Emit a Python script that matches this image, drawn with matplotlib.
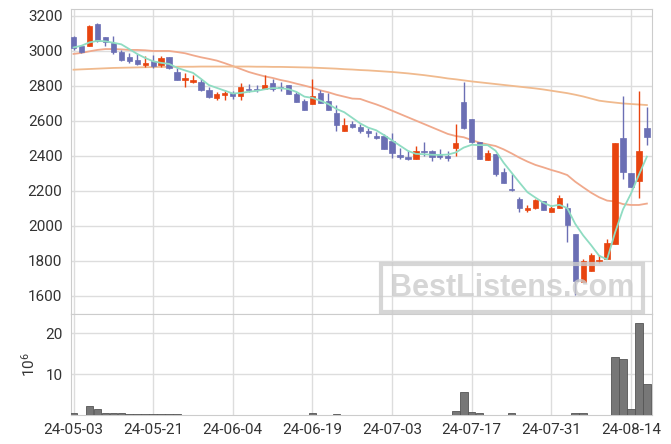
import matplotlib
matplotlib.use("Agg")
import matplotlib.pyplot as plt

plt.rcParams["font.family"] = ["Roboto", "DejaVu Sans"]
plt.rcParams["mathtext.fontset"] = "custom"
plt.rcParams["mathtext.rm"] = "Roboto"
plt.rcParams["mathtext.it"] = "Roboto"

# x labels every 10 trading days
tick_labels = ["24-05-03", "24-05-21", "24-06-04", "24-06-19",
               "24-07-03", "24-07-17", "24-07-31", "24-08-14"]

opens = [3080, 3030, 3026, 3153, 3079, 3045, 2994, 2968, 2949, 2921,
         2940, 2917, 2968, 2877, 2834, 2823, 2821, 2775, 2733, 2750,
         2762, 2745, 2783, 2785, 2781, 2815, 2796, 2806, 2756, 2714,
         2699, 2762, 2714, 2648, 2545, 2583, 2566, 2545, 2514, 2514,
         2486, 2406, 2394, 2385, 2430, 2429, 2406, 2400, 2448, 2707,
         2610, 2478, 2375, 2409, 2307, 2213, 2154, 2093, 2105, 2141,
         2082, 2105, 2101, 1954, 1682, 1745, 1800, 1811, 1895, 2503,
         2303, 2259, 2560]
highs = [3085, 3035, 3151, 3162, 3079, 3085, 3006, 2987, 2981, 2972,
         2977, 2970, 2968, 2902, 2874, 2864, 2840, 2792, 2768, 2775,
         2773, 2815, 2810, 2806, 2861, 2838, 2821, 2808, 2766, 2728,
         2838, 2777, 2758, 2690, 2619, 2598, 2581, 2562, 2535, 2524,
         2530, 2444, 2430, 2455, 2478, 2434, 2438, 2429, 2581, 2825,
         2610, 2482, 2432, 2409, 2329, 2297, 2168, 2118, 2152, 2145,
         2118, 2175, 2133, 1954, 1813, 1847, 1832, 1924, 2472, 2743,
         2303, 2773, 2678]
lows = [3006, 2990, 3026, 3049, 3030, 2983, 2941, 2932, 2921, 2907,
        2904, 2907, 2898, 2834, 2796, 2817, 2774, 2730, 2720, 2720,
        2724, 2720, 2768, 2766, 2781, 2773, 2773, 2752, 2707, 2663,
        2699, 2705, 2663, 2545, 2545, 2558, 2530, 2507, 2495, 2438,
        2389, 2385, 2377, 2381, 2400, 2373, 2381, 2371, 2400, 2552,
        2472, 2385, 2375, 2288, 2248, 2202, 2082, 2078, 2095, 2093,
        2082, 2105, 1907, 1606, 1682, 1745, 1787, 1811, 1895, 2267,
        2221, 2158, 2461]
closes = [3017, 2995, 3143, 3055, 3049, 2992, 2947, 2940, 2926, 2930,
          2913, 2962, 2902, 2834, 2843, 2832, 2777, 2738, 2754, 2762,
          2745, 2794, 2779, 2779, 2806, 2781, 2787, 2756, 2710, 2663,
          2743, 2705, 2663, 2579, 2577, 2568, 2545, 2533, 2505, 2438,
          2415, 2394, 2381, 2429, 2425, 2396, 2396, 2390, 2474, 2562,
          2478, 2385, 2415, 2299, 2248, 2208, 2105, 2105, 2147, 2093,
          2103, 2160, 2008, 1687, 1800, 1832, 1806, 1901, 2472, 2310,
          2221, 2429, 2510]

# volume in millions
volumes = [0.4, 0.03, 2.1, 1.5, 0.4, 0.4, 0.4, 0.15, 0.15, 0.15,
           0.15, 0.15, 0.15, 0.35, 0.1, 0.1, 0.1, 0.02, 0.1, 0.02,
           0.02, 0.1, 0.02, 0.02, 0.1, 0.1, 0.02, 0.1, 0.1, 0.1,
           0.6, 0.1, 0.1, 0.3, 0.02, 0.02, 0.02, 0.02, 0.1, 0.1,
           0.1, 0.02, 0.1, 0.02, 0.02, 0.02, 0.02, 0.02, 0.9, 5.6,
           0.65, 0.4, 0.1, 0.1, 0.1, 0.4, 0.1, 0.1, 0.02, 0.1,
           0.02, 0.02, 0.1, 0.6, 0.4, 0.1, 0.1, 0.1, 14.3, 13.8,
           1.5, 22.4, 7.7]

ma5 = [3020, 3030, 3049, 3058, 3055, 3047, 3038, 3011, 2983, 2960,
       2941, 2932, 2926, 2904, 2889, 2875, 2841, 2805, 2789, 2773,
       2757, 2760, 2767, 2772, 2781, 2788, 2787, 2782, 2766, 2739,
       2732, 2716, 2697, 2669, 2650, 2618, 2586, 2562, 2547, 2519,
       2489, 2459, 2429, 2412, 2410, 2407, 2406, 2408, 2420, 2448,
       2464, 2462, 2462, 2430, 2362, 2305, 2248, 2193, 2162, 2133,
       2113, 2121, 2102, 2012, 1946, 1890, 1830, 1809, 1962, 2095,
       2185, 2293, 2396]

ma20 = [2983, 2989, 2998, 3006, 3011, 3011, 3009, 3006, 3006, 3004,
        3000, 3000, 3000, 2994, 2987, 2975, 2964, 2955, 2945, 2930,
        2914, 2897, 2880, 2867, 2855, 2846, 2834, 2825, 2813, 2802,
        2790, 2775, 2764, 2750, 2739, 2728, 2726, 2710, 2695, 2678,
        2659, 2640, 2621, 2602, 2583, 2564, 2545, 2526, 2514, 2507,
        2491, 2476, 2466, 2457, 2438, 2415, 2390, 2368, 2349, 2335,
        2320, 2307, 2291, 2253, 2221, 2190, 2164, 2145, 2140, 2125,
        2120, 2120, 2128]

ma60 = [2893, 2895, 2897, 2899, 2901, 2903, 2904, 2905, 2906, 2907,
        2908, 2909, 2909, 2910, 2910, 2910, 2911, 2911, 2911, 2911,
        2911, 2911, 2911, 2910, 2910, 2909, 2909, 2908, 2907, 2906,
        2905, 2903, 2901, 2899, 2896, 2894, 2891, 2889, 2886, 2883,
        2880, 2876, 2872, 2867, 2862, 2856, 2850, 2843, 2838, 2832,
        2826, 2821, 2816, 2811, 2806, 2801, 2796, 2791, 2786, 2780,
        2773, 2766, 2759, 2750, 2740, 2728, 2716, 2710, 2705, 2700,
        2697, 2694, 2691]

UP = "#e8440f"
DOWN = "#6b6fb4"
GRID = "#dddddd"

fig = plt.figure(figsize=(6.71, 4.44), dpi=100)
ax = fig.add_axes([0.1054, 0.2928, 0.8658, 0.6862])
axv = fig.add_axes([0.1054, 0.0653, 0.8658, 0.2275], sharex=ax)

idx = list(range(len(closes)))
colors = [UP if c >= o else DOWN for o, c in zip(opens, closes)]
bottoms = [min(o, c) for o, c in zip(opens, closes)]
heights = [max(abs(c - o), 6) for o, c in zip(opens, closes)]

ax.vlines(idx, lows, highs, colors=colors, linewidth=1.0, zorder=3)
ax.bar(idx, heights, bottom=bottoms, width=0.66, color=colors,
       edgecolor=colors, linewidth=0.5, zorder=4)

ax.plot(idx, ma5, color="#8fdcc2", linewidth=1.3, zorder=5)
ax.plot(idx, ma20, color="#f0a98c", linewidth=1.3, zorder=2)
ax.plot(idx, ma60, color="#f0ba8e", linewidth=1.3, zorder=2)

axv.bar(idx, volumes, width=0.95, color="#777777", edgecolor="#555555",
        linewidth=0.6, zorder=3)

for a in (ax, axv):
    a.grid(color=GRID, linewidth=1.0)
    a.set_axisbelow(True)
    a.tick_params(length=0, labelsize=11, colors="#333333", pad=6)
    for s in a.spines.values():
        s.set_color("#cccccc")

ax.set_xlim(-0.35, 72.6)
ax.set_ylim(1497, 3238)
ax.set_yticks(range(1600, 3201, 200))
ax.tick_params(labelbottom=False)

axv.set_ylim(0, 24.7)
axv.set_yticks([10, 20])
axv.set_xticks(range(0, 71, 10))
axv.set_xticklabels(tick_labels)
axv.set_ylabel("$10^6$", fontsize=11, color="#333333")
axv.yaxis.set_label_coords(-0.056, 0.5)

fig.text(0.763, 0.351, "BestListens.com", fontsize=22, fontweight="bold",
         family="Liberation Sans", color="#cccccc", alpha=0.8,
         ha="center", va="center", zorder=10,
         bbox=dict(boxstyle="square,pad=0.3", facecolor="none",
                   edgecolor="#cccccc", linewidth=3, alpha=0.8))

fig.savefig("out.png", dpi=100)
